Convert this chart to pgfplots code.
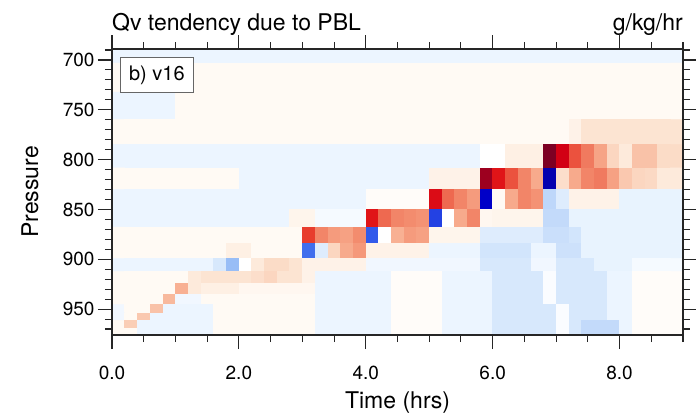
\documentclass[border=0pt]{standalone}
\usepackage{pgfplots}
\pgfplotsset{compat=1.18}
\usepackage{fontspec}
\setmainfont{TeX Gyre Heros}

% Qv tendency due to PBL (g/kg/hr), cells 0.2 h wide, model layers in pressure
% columns: time (h, cell centre), pressure (hPa, layer centre), value
\begin{document}
\begin{tikzpicture}
\path[use as bounding box] (0,0) rectangle (696pt,416pt);
\begin{axis}[
    at={(112pt,81pt)}, anchor=south west,
    scale only axis, width=571pt, height=286pt,
    xmin=0, xmax=9, ymin=689, ymax=976, y dir=reverse,
    axis on top, clip mode=individual,
    colormap={ncl}{rgb255(0pt)=(10,0,150); rgb255(10pt)=(0,0,200); rgb255(20pt)=(20,40,220);
        rgb255(30pt)=(50,90,235); rgb255(40pt)=(80,130,240); rgb255(60pt)=(140,180,245);
        rgb255(80pt)=(190,215,250); rgb255(90pt)=(215,232,252); rgb255(96pt)=(236,245,255);
        rgb255(100pt)=(255,255,255); rgb255(102pt)=(255,250,244); rgb255(106pt)=(254,240,228);
        rgb255(110pt)=(252,228,210); rgb255(120pt)=(250,200,175); rgb255(130pt)=(247,170,140);
        rgb255(140pt)=(243,140,110); rgb255(150pt)=(238,105,80); rgb255(160pt)=(232,60,45);
        rgb255(170pt)=(228,25,25); rgb255(180pt)=(210,0,20); rgb255(190pt)=(165,0,30);
        rgb255(200pt)=(125,0,35)},
    point meta min=-1, point meta max=1,
    xtick={0,2,4,6,8}, xticklabels={0.0,2.0,4.0,6.0,8.0},
    minor xtick={0,0.5,...,9},
    ytick={700,750,...,950}, minor ytick={690,700,...,970},
    tick align=outside, major tick length=14pt, minor tick length=7pt,
    tick style={line width=1.1pt, black!85},
    axis line style={line width=1.3pt, black!85},
    ticklabel style={font=\fontsize{19}{19}\selectfont},
    xticklabel style={yshift=-13pt},
    /pgf/number format/assume math mode=true,
    xlabel={Time (hrs)}, ylabel={Pressure},
    label style={font=\fontsize{23}{23}\selectfont},
    xlabel style={at={(axis description cs:0.5,-0.2587)}, anchor=base},
    ylabel style={at={(axis description cs:-0.1296,0.5)}, anchor=base},
]
\addplot[matrix plot*, mesh/cols=45, point meta=explicit] table[x=x, y=y, meta=c] {
x y c
0.1 688 -0.04
0.3 688 -0.04
0.5 688 -0.04
0.7 688 -0.04
0.9 688 -0.04
1.1 688 -0.04
1.3 688 -0.04
1.5 688 -0.04
1.7 688 -0.04
1.9 688 -0.04
2.1 688 -0.04
2.3 688 -0.04
2.5 688 -0.04
2.7 688 -0.04
2.9 688 -0.04
3.1 688 -0.04
3.3 688 -0.04
3.5 688 -0.04
3.7 688 -0.04
3.9 688 -0.04
4.1 688 -0.04
4.3 688 -0.04
4.5 688 -0.04
4.7 688 -0.04
4.9 688 -0.04
5.1 688 -0.04
5.3 688 -0.04
5.5 688 -0.04
5.7 688 -0.04
5.9 688 -0.04
6.1 688 -0.04
6.3 688 -0.04
6.5 688 -0.04
6.7 688 -0.04
6.9 688 -0.04
7.1 688 -0.04
7.3 688 -0.04
7.5 688 -0.04
7.7 688 -0.04
7.9 688 -0.04
8.1 688 -0.04
8.3 688 -0.04
8.5 688 -0.04
8.7 688 -0.04
8.9 688 -0.04
0.1 718 0.02
0.3 718 0.02
0.5 718 0.02
0.7 718 0.02
0.9 718 0.02
1.1 718 0.02
1.3 718 0.02
1.5 718 0.02
1.7 718 0.02
1.9 718 0.02
2.1 718 0.02
2.3 718 0.02
2.5 718 0.02
2.7 718 0.02
2.9 718 0.02
3.1 718 0.02
3.3 718 0.02
3.5 718 0.02
3.7 718 0.02
3.9 718 0.02
4.1 718 0.02
4.3 718 0.02
4.5 718 0.02
4.7 718 0.02
4.9 718 0.02
5.1 718 0.02
5.3 718 0.02
5.5 718 0.02
5.7 718 0.02
5.9 718 0.02
6.1 718 0.02
6.3 718 0.02
6.5 718 0.02
6.7 718 0.02
6.9 718 0.02
7.1 718 0.02
7.3 718 0.02
7.5 718 0.02
7.7 718 0.02
7.9 718 0.02
8.1 718 0.02
8.3 718 0.02
8.5 718 0.02
8.7 718 0.02
8.9 718 0.02
0.1 746.5 -0.04
0.3 746.5 -0.04
0.5 746.5 -0.04
0.7 746.5 -0.04
0.9 746.5 -0.04
1.1 746.5 0.02
1.3 746.5 0.02
1.5 746.5 0.02
1.7 746.5 0.02
1.9 746.5 0.02
2.1 746.5 0.02
2.3 746.5 0.02
2.5 746.5 0.02
2.7 746.5 0.02
2.9 746.5 0.02
3.1 746.5 0.02
3.3 746.5 0.02
3.5 746.5 0.02
3.7 746.5 0.02
3.9 746.5 0.02
4.1 746.5 0.02
4.3 746.5 0.02
4.5 746.5 0.02
4.7 746.5 0.02
4.9 746.5 0.02
5.1 746.5 0.02
5.3 746.5 0.02
5.5 746.5 0.02
5.7 746.5 0.02
5.9 746.5 0.02
6.1 746.5 0.02
6.3 746.5 0.02
6.5 746.5 0.02
6.7 746.5 0.02
6.9 746.5 0.02
7.1 746.5 0.02
7.3 746.5 0.02
7.5 746.5 0.02
7.7 746.5 0.02
7.9 746.5 0.02
8.1 746.5 0.02
8.3 746.5 0.02
8.5 746.5 0.02
8.7 746.5 0.02
8.9 746.5 0.02
0.1 772.5 0.02
0.3 772.5 0.02
0.5 772.5 0.02
0.7 772.5 0.02
0.9 772.5 0.02
1.1 772.5 0.02
1.3 772.5 0.02
1.5 772.5 0.02
1.7 772.5 0.02
1.9 772.5 0.02
2.1 772.5 0.02
2.3 772.5 0.02
2.5 772.5 0.02
2.7 772.5 0.02
2.9 772.5 0.02
3.1 772.5 0.02
3.3 772.5 0.02
3.5 772.5 0.02
3.7 772.5 0.02
3.9 772.5 0.02
4.1 772.5 0.02
4.3 772.5 0.02
4.5 772.5 0.02
4.7 772.5 0.02
4.9 772.5 0.02
5.1 772.5 0.02
5.3 772.5 0.02
5.5 772.5 0.02
5.7 772.5 0.02
5.9 772.5 0.02
6.1 772.5 0.02
6.3 772.5 0.02
6.5 772.5 0.02
6.7 772.5 0.02
6.9 772.5 0.02
7.1 772.5 0.02
7.3 772.5 0.05
7.5 772.5 0.1
7.7 772.5 0.1
7.9 772.5 0.1
8.1 772.5 0.1
8.3 772.5 0.1
8.5 772.5 0.1
8.7 772.5 0.1
8.9 772.5 0.1
0.1 797 -0.04
0.3 797 -0.04
0.5 797 -0.04
0.7 797 -0.04
0.9 797 -0.04
1.1 797 -0.04
1.3 797 -0.04
1.5 797 -0.04
1.7 797 -0.04
1.9 797 -0.04
2.1 797 -0.04
2.3 797 -0.04
2.5 797 -0.04
2.7 797 -0.04
2.9 797 -0.04
3.1 797 -0.04
3.3 797 -0.04
3.5 797 -0.04
3.7 797 -0.04
3.9 797 -0.04
4.1 797 -0.04
4.3 797 -0.04
4.5 797 -0.04
4.7 797 -0.04
4.9 797 -0.04
5.1 797 -0.04
5.3 797 -0.04
5.5 797 -0.04
5.7 797 -0.04
5.9 797 0
6.1 797 0
6.3 797 0.06
6.5 797 0.06
6.7 797 0.06
6.9 797 1
7.1 797 0.8
7.3 797 0.55
7.5 797 0.45
7.7 797 0.32
7.9 797 0.15
8.1 797 0.08
8.3 797 0.22
8.5 797 0.22
8.7 797 0.13
8.9 797 0.13
0.1 819.5 0.02
0.3 819.5 0.02
0.5 819.5 0.02
0.7 819.5 0.02
0.9 819.5 0.02
1.1 819.5 0.02
1.3 819.5 0.02
1.5 819.5 0.02
1.7 819.5 0.02
1.9 819.5 0.02
2.1 819.5 -0.04
2.3 819.5 -0.04
2.5 819.5 -0.04
2.7 819.5 -0.04
2.9 819.5 -0.04
3.1 819.5 -0.04
3.3 819.5 -0.04
3.5 819.5 -0.04
3.7 819.5 -0.04
3.9 819.5 -0.04
4.1 819.5 -0.04
4.3 819.5 -0.04
4.5 819.5 -0.04
4.7 819.5 -0.04
4.9 819.5 -0.04
5.1 819.5 0.05
5.3 819.5 0.05
5.5 819.5 0.05
5.7 819.5 0.05
5.9 819.5 0.92
6.1 819.5 0.72
6.3 819.5 0.55
6.5 819.5 0.42
6.7 819.5 0.3
6.9 819.5 -0.95
7.1 819.5 0.12
7.3 819.5 0.3
7.5 819.5 0.42
7.7 819.5 0.45
7.9 819.5 0.33
8.1 819.5 0.2
8.3 819.5 0.15
8.5 819.5 0.14
8.7 819.5 0.08
8.9 819.5 0.08
0.1 840 -0.04
0.3 840 -0.04
0.5 840 -0.04
0.7 840 -0.04
0.9 840 -0.04
1.1 840 -0.04
1.3 840 -0.04
1.5 840 -0.04
1.7 840 -0.04
1.9 840 -0.04
2.1 840 -0.04
2.3 840 -0.04
2.5 840 -0.04
2.7 840 -0.04
2.9 840 -0.04
3.1 840 -0.04
3.3 840 -0.04
3.5 840 -0.04
3.7 840 -0.04
3.9 840 -0.04
4.1 840 0.01
4.3 840 0.01
4.5 840 0.01
4.7 840 0.01
4.9 840 0.01
5.1 840 0.75
5.3 840 0.5
5.5 840 0.42
5.7 840 0.35
5.9 840 -0.9
6.1 840 0.02
6.3 840 0.3
6.5 840 0.42
6.7 840 0.38
6.9 840 -0.2
7.1 840 -0.08
7.3 840 0.05
7.5 840 0.05
7.7 840 0.05
7.9 840 0.05
8.1 840 -0.05
8.3 840 -0.05
8.5 840 -0.05
8.7 840 -0.05
8.9 840 -0.05
0.1 859 -0.04
0.3 859 -0.04
0.5 859 -0.04
0.7 859 -0.04
0.9 859 -0.04
1.1 859 -0.04
1.3 859 -0.04
1.5 859 -0.04
1.7 859 -0.04
1.9 859 -0.04
2.1 859 -0.04
2.3 859 -0.04
2.5 859 -0.04
2.7 859 -0.04
2.9 859 0.04
3.1 859 0.04
3.3 859 -0.02
3.5 859 -0.02
3.7 859 -0.02
3.9 859 -0.02
4.1 859 0.72
4.3 859 0.5
4.5 859 0.42
4.7 859 0.4
4.9 859 0.38
5.1 859 -0.75
5.3 859 0
5.5 859 0.3
5.7 859 0.42
5.9 859 0.03
6.1 859 0.04
6.3 859 0.04
6.5 859 0.04
6.7 859 0.04
6.9 859 -0.18
7.1 859 -0.18
7.3 859 -0.05
7.5 859 -0.05
7.7 859 -0.05
7.9 859 -0.05
8.1 859 -0.05
8.3 859 -0.05
8.5 859 -0.05
8.7 859 -0.05
8.9 859 -0.05
0.1 876.5 0.02
0.3 876.5 0.02
0.5 876.5 0.02
0.7 876.5 0.02
0.9 876.5 0.02
1.1 876.5 0.02
1.3 876.5 0.02
1.5 876.5 0.02
1.7 876.5 0.02
1.9 876.5 0.02
2.1 876.5 0.02
2.3 876.5 0.02
2.5 876.5 0.02
2.7 876.5 0.02
2.9 876.5 0.02
3.1 876.5 0.6
3.3 876.5 0.42
3.5 876.5 0.35
3.7 876.5 0.33
3.9 876.5 0.4
4.1 876.5 -0.7
4.3 876.5 0
4.5 876.5 0.28
4.7 876.5 0.35
4.9 876.5 0.33
5.1 876.5 0.04
5.3 876.5 0.04
5.5 876.5 0.04
5.7 876.5 0.04
5.9 876.5 -0.08
6.1 876.5 -0.08
6.3 876.5 -0.08
6.5 876.5 -0.08
6.7 876.5 -0.08
6.9 876.5 -0.15
7.1 876.5 -0.15
7.3 876.5 -0.12
7.5 876.5 -0.05
7.7 876.5 -0.05
7.9 876.5 -0.05
8.1 876.5 -0.05
8.3 876.5 -0.05
8.5 876.5 -0.05
8.7 876.5 -0.05
8.9 876.5 -0.05
0.1 892 0.02
0.3 892 0.02
0.5 892 0.02
0.7 892 0.02
0.9 892 0.02
1.1 892 0.02
1.3 892 0.02
1.5 892 0.02
1.7 892 0.02
1.9 892 0.06
2.1 892 0.06
2.3 892 0.02
2.5 892 0.02
2.7 892 0.02
2.9 892 0.02
3.1 892 -0.65
3.3 892 -0.08
3.5 892 0.15
3.7 892 0.3
3.9 892 0.36
4.1 892 0.05
4.3 892 0.05
4.5 892 0.05
4.7 892 0.05
4.9 892 0.05
5.1 892 -0.04
5.3 892 -0.04
5.5 892 -0.04
5.7 892 -0.04
5.9 892 -0.12
6.1 892 -0.12
6.3 892 -0.12
6.5 892 -0.12
6.7 892 -0.04
6.9 892 -0.04
7.1 892 -0.14
7.3 892 -0.14
7.5 892 -0.05
7.7 892 -0.05
7.9 892 -0.05
8.1 892 -0.05
8.3 892 -0.05
8.5 892 -0.05
8.7 892 -0.05
8.9 892 -0.05
0.1 906 -0.04
0.3 906 -0.04
0.5 906 -0.04
0.7 906 -0.04
0.9 906 -0.04
1.1 906 -0.04
1.3 906 -0.04
1.5 906 -0.04
1.7 906 -0.1
1.9 906 -0.35
2.1 906 0
2.3 906 0.08
2.5 906 0.13
2.7 906 0.13
2.9 906 0.1
3.1 906 0.05
3.3 906 0.05
3.5 906 0.05
3.7 906 0.05
3.9 906 0.05
4.1 906 -0.03
4.3 906 -0.03
4.5 906 -0.03
4.7 906 -0.03
4.9 906 -0.03
5.1 906 -0.03
5.3 906 -0.03
5.5 906 -0.03
5.7 906 -0.03
5.9 906 -0.1
6.1 906 -0.1
6.3 906 -0.1
6.5 906 -0.1
6.7 906 -0.03
6.9 906 -0.03
7.1 906 -0.1
7.3 906 -0.1
7.5 906 -0.1
7.7 906 -0.05
7.9 906 -0.05
8.1 906 -0.05
8.3 906 -0.02
8.5 906 -0.02
8.7 906 -0.02
8.9 906 -0.02
0.1 918.5 0.02
0.3 918.5 0.02
0.5 918.5 0.02
0.7 918.5 0.02
0.9 918.5 0.02
1.1 918.5 0.02
1.3 918.5 0.08
1.5 918.5 0.1
1.7 918.5 0.1
1.9 918.5 0.1
2.1 918.5 0.1
2.3 918.5 0.12
2.5 918.5 0.15
2.7 918.5 0.1
2.9 918.5 0.1
3.1 918.5 0.05
3.3 918.5 -0.04
3.5 918.5 -0.04
3.7 918.5 -0.04
3.9 918.5 -0.04
4.1 918.5 -0.04
4.3 918.5 -0.04
4.5 918.5 0.01
4.7 918.5 0.01
4.9 918.5 0.01
5.1 918.5 0.01
5.3 918.5 -0.04
5.5 918.5 -0.04
5.7 918.5 -0.04
5.9 918.5 -0.04
6.1 918.5 -0.1
6.3 918.5 -0.1
6.5 918.5 -0.1
6.7 918.5 -0.1
6.9 918.5 -0.01
7.1 918.5 -0.1
7.3 918.5 -0.1
7.5 918.5 -0.1
7.7 918.5 -0.1
7.9 918.5 -0.04
8.1 918.5 -0.04
8.3 918.5 0.01
8.5 918.5 0.01
8.7 918.5 0.01
8.9 918.5 0.01
0.1 930 0.02
0.3 930 0.02
0.5 930 0.02
0.7 930 0.02
0.9 930 0.02
1.1 930 0.28
1.3 930 0.08
1.5 930 0.06
1.7 930 0.06
1.9 930 0.06
2.1 930 0.03
2.3 930 0.03
2.5 930 0.03
2.7 930 0.03
2.9 930 0.03
3.1 930 0.03
3.3 930 -0.04
3.5 930 -0.04
3.7 930 -0.04
3.9 930 -0.04
4.1 930 -0.04
4.3 930 -0.04
4.5 930 0.01
4.7 930 0.01
4.9 930 0.01
5.1 930 0.01
5.3 930 -0.04
5.5 930 -0.04
5.7 930 -0.04
5.9 930 -0.04
6.1 930 -0.1
6.3 930 -0.1
6.5 930 -0.1
6.7 930 -0.1
6.9 930 -0.01
7.1 930 -0.1
7.3 930 -0.1
7.5 930 -0.1
7.7 930 -0.1
7.9 930 -0.04
8.1 930 -0.04
8.3 930 0.01
8.5 930 0.01
8.7 930 0.01
8.9 930 0.01
0.1 941 0.02
0.3 941 0.02
0.5 941 0.02
0.7 941 0.02
0.9 941 0.25
1.1 941 -0.03
1.3 941 -0.03
1.5 941 0.02
1.7 941 0.02
1.9 941 0.02
2.1 941 0.02
2.3 941 0.02
2.5 941 0.02
2.7 941 0.02
2.9 941 0.02
3.1 941 0.02
3.3 941 -0.04
3.5 941 -0.04
3.7 941 -0.04
3.9 941 -0.04
4.1 941 -0.04
4.3 941 -0.04
4.5 941 0.01
4.7 941 0.01
4.9 941 0.01
5.1 941 0.01
5.3 941 -0.04
5.5 941 -0.04
5.7 941 -0.04
5.9 941 -0.04
6.1 941 -0.1
6.3 941 -0.1
6.5 941 -0.1
6.7 941 -0.1
6.9 941 -0.01
7.1 941 -0.1
7.3 941 -0.1
7.5 941 -0.1
7.7 941 -0.1
7.9 941 -0.04
8.1 941 -0.04
8.3 941 0.01
8.5 941 0.01
8.7 941 0.01
8.9 941 0.01
0.1 950 -0.03
0.3 950 0.02
0.5 950 0.02
0.7 950 0.22
0.9 950 -0.04
1.1 950 -0.04
1.3 950 -0.04
1.5 950 -0.04
1.7 950 0.02
1.9 950 0.02
2.1 950 0.02
2.3 950 0.02
2.5 950 0.02
2.7 950 0.02
2.9 950 0.02
3.1 950 0.02
3.3 950 -0.04
3.5 950 -0.04
3.7 950 -0.04
3.9 950 -0.04
4.1 950 -0.04
4.3 950 -0.04
4.5 950 0.01
4.7 950 0.01
4.9 950 0.01
5.1 950 0.01
5.3 950 -0.04
5.5 950 -0.04
5.7 950 -0.04
5.9 950 -0.04
6.1 950 -0.1
6.3 950 -0.1
6.5 950 -0.1
6.7 950 -0.1
6.9 950 -0.1
7.1 950 -0.01
7.3 950 -0.1
7.5 950 -0.1
7.7 950 -0.1
7.9 950 -0.04
8.1 950 -0.04
8.3 950 0.01
8.5 950 0.01
8.7 950 0.01
8.9 950 0.01
0.1 957.5 -0.03
0.3 957.5 0.02
0.5 957.5 0.2
0.7 957.5 -0.04
0.9 957.5 -0.04
1.1 957.5 -0.04
1.3 957.5 -0.04
1.5 957.5 -0.04
1.7 957.5 0.02
1.9 957.5 0.02
2.1 957.5 0.02
2.3 957.5 0.02
2.5 957.5 0.02
2.7 957.5 0.02
2.9 957.5 0.02
3.1 957.5 0.02
3.3 957.5 -0.04
3.5 957.5 -0.04
3.7 957.5 -0.04
3.9 957.5 -0.04
4.1 957.5 -0.04
4.3 957.5 -0.04
4.5 957.5 0.01
4.7 957.5 0.01
4.9 957.5 0.01
5.1 957.5 0.01
5.3 957.5 -0.04
5.5 957.5 -0.04
5.7 957.5 -0.04
5.9 957.5 -0.04
6.1 957.5 -0.1
6.3 957.5 -0.1
6.5 957.5 -0.1
6.7 957.5 -0.1
6.9 957.5 -0.1
7.1 957.5 -0.01
7.3 957.5 -0.1
7.5 957.5 -0.1
7.7 957.5 -0.1
7.9 957.5 -0.04
8.1 957.5 -0.04
8.3 957.5 0.01
8.5 957.5 0.01
8.7 957.5 0.01
8.9 957.5 0.01
0.1 965 0.02
0.3 965 0.18
0.5 965 -0.04
0.7 965 -0.04
0.9 965 -0.04
1.1 965 -0.04
1.3 965 -0.04
1.5 965 -0.04
1.7 965 0.02
1.9 965 0.02
2.1 965 0.02
2.3 965 0.02
2.5 965 0.02
2.7 965 0.02
2.9 965 0.02
3.1 965 0.02
3.3 965 -0.04
3.5 965 -0.04
3.7 965 -0.04
3.9 965 -0.04
4.1 965 -0.04
4.3 965 -0.04
4.5 965 0.01
4.7 965 0.01
4.9 965 0.01
5.1 965 0.01
5.3 965 -0.04
5.5 965 -0.04
5.7 965 -0.04
5.9 965 -0.04
6.1 965 -0.1
6.3 965 -0.1
6.5 965 -0.1
6.7 965 -0.1
6.9 965 -0.1
7.1 965 -0.01
7.3 965 -0.1
7.5 965 -0.18
7.7 965 -0.18
7.9 965 -0.18
8.1 965 -0.04
8.3 965 0.01
8.5 965 0.01
8.7 965 0.01
8.9 965 0.01
0.1 972.5 0.02
0.3 972.5 0.02
0.5 972.5 -0.04
0.7 972.5 -0.04
0.9 972.5 -0.04
1.1 972.5 -0.04
1.3 972.5 -0.04
1.5 972.5 -0.04
1.7 972.5 0.02
1.9 972.5 0.02
2.1 972.5 0.02
2.3 972.5 0.02
2.5 972.5 0.02
2.7 972.5 0.02
2.9 972.5 0.02
3.1 972.5 0.02
3.3 972.5 -0.04
3.5 972.5 -0.04
3.7 972.5 -0.04
3.9 972.5 -0.04
4.1 972.5 -0.04
4.3 972.5 -0.04
4.5 972.5 0.01
4.7 972.5 0.01
4.9 972.5 0.01
5.1 972.5 0.01
5.3 972.5 -0.04
5.5 972.5 -0.04
5.7 972.5 -0.04
5.9 972.5 -0.04
6.1 972.5 -0.1
6.3 972.5 -0.1
6.5 972.5 -0.1
6.7 972.5 -0.1
6.9 972.5 -0.1
7.1 972.5 -0.01
7.3 972.5 -0.1
7.5 972.5 -0.18
7.7 972.5 -0.18
7.9 972.5 -0.18
8.1 972.5 -0.04
8.3 972.5 0.01
8.5 972.5 0.01
8.7 972.5 0.01
8.9 972.5 0.01
};
\node[anchor=base west, font=\fontsize{23}{23}\selectfont, inner sep=0pt, yshift=19pt] at (rel axis cs:0,1) {Qv tendency due to PBL};
\node[anchor=base east, font=\fontsize{23}{23}\selectfont, inner sep=0pt, yshift=19pt] at (rel axis cs:1,1) {g/kg/hr};
\node[anchor=north west, draw=black!60, line width=0.8pt, fill=white, minimum width=73pt, minimum height=35pt, inner sep=0pt, font=\fontsize{20}{20}\selectfont, xshift=8pt, yshift=-8pt] at (rel axis cs:0,1) {b) v16};
\end{axis}
\end{tikzpicture}
\end{document}
